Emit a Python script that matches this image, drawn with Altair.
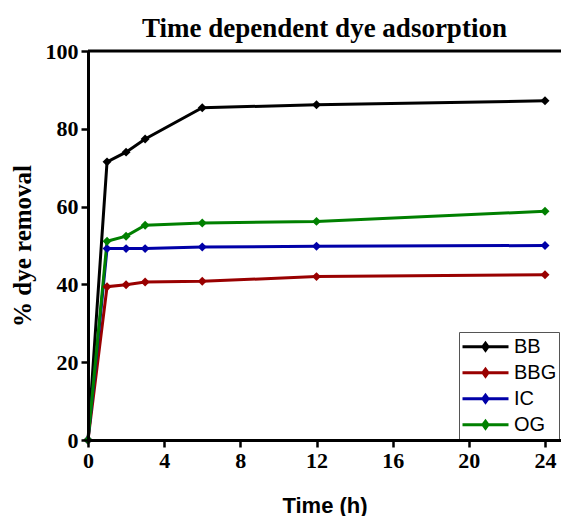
import altair as alt
import pandas as pd

times = [0, 1, 2, 3, 6, 12, 24]
series_names = ["BB", "BBG", "IC", "OG"]
bb = [0, 71.5, 74.0, 77.4, 85.4, 86.2, 87.2]
bbg = [0, 39.4, 39.9, 40.6, 40.8, 42.0, 42.5]
ic = [0, 49.2, 49.2, 49.2, 49.6, 49.8, 50.0]
og = [0, 51.1, 52.4, 55.2, 55.8, 56.2, 58.8]
colors = ["#000000", "#990000", "#0000a8", "#008000"]

x_ticks = [0, 2, 4, 6, 8, 10, 12, 14, 16, 18, 20, 22, 24]
y_ticks = [0, 10, 20, 30, 40, 50, 60, 70, 80, 90, 100]
x_max = 24.84
y_max = 100

rows = []
for name, vals in zip(series_names, [bb, bbg, ic, og]):
    for t, v in zip(times, vals):
        rows.append({"Time": t, "Removal": v, "Dye": name})
df = pd.DataFrame(rows)

SERIF = "Liberation Serif"
SANS = "Liberation Sans"

legend_path = ("M-1,0L1,0"
               "M-0.11,0L0,-0.15L0.11,0L0,0.15Z"
               "M-0.05,0L0,-0.07L0.05,0L0,0.07Z")

x_scale = alt.Scale(domain=[0, x_max], nice=False, zero=False)
y_scale = alt.Scale(domain=[0, y_max], nice=False)

lines = alt.Chart(df).mark_line(
    strokeWidth=3,
    point=alt.OverlayMarkDef(shape="diamond", size=80, filled=True, opacity=1),
).encode(
    x=alt.X(
        "Time:Q",
        scale=x_scale,
        axis=alt.Axis(
            values=x_ticks,
            labelExpr="datum.value % 4 === 0 ? datum.label : ''",
            tickSize={"condition": {"test": "datum.value % 4 === 0", "value": 7}, "value": 4},
            tickWidth=2.5,
            tickColor="black",
            domainColor="black",
            domainWidth=3,
            labelFont=SERIF,
            labelFontWeight="bold",
            labelFontSize=22,
            labelColor="black",
            labelPadding=3,
            labelFlush=False,
            labelOverlap=False,
            grid=False,
            title="Time (h)",
            titleFont=SANS,
            titleFontWeight="bold",
            titleFontSize=22,
            titleColor="black",
            titlePadding=24,
            zindex=1,
        ),
    ),
    y=alt.Y(
        "Removal:Q",
        scale=y_scale,
        axis=alt.Axis(
            values=y_ticks,
            labelExpr="datum.value % 20 === 0 ? datum.label : ''",
            tickSize={"condition": {"test": "datum.value % 20 === 0", "value": 7}, "value": 4},
            tickWidth=2.5,
            tickColor="black",
            domainColor="black",
            domainWidth=3,
            labelFont=SERIF,
            labelFontWeight="bold",
            labelFontSize=22,
            labelColor="black",
            labelPadding=3,
            labelFlush=False,
            labelOverlap=False,
            grid=False,
            title="% dye removal",
            titleFont=SERIF,
            titleFontWeight="bold",
            titleFontSize=25,
            titleColor="black",
            titlePadding=10,
            zindex=1,
        ),
    ),
    color=alt.Color(
        "Dye:N",
        scale=alt.Scale(domain=series_names, range=colors),
        legend=alt.Legend(
            orient="none",
            legendX=371,
            legendY=281,
            title=None,
            symbolType=legend_path,
            symbolSize=2116,
            symbolStrokeWidth=3,
            symbolOffset=0,
            clipHeight=25.5,
            rowPadding=0,
            padding=2,
            labelFont=SANS,
            labelFontSize=20,
            labelColor="black",
            labelOffset=4,
            strokeColor="#555555",
            fillColor="white",
        ),
    ),
)

top_df = pd.DataFrame({"x0": [0], "x1": [x_max], "y": [y_max]})
top_line = alt.Chart(top_df).mark_rule(strokeWidth=3, color="black").encode(
    x=alt.X("x0:Q", scale=x_scale),
    x2="x1:Q",
    y=alt.Y("y:Q", scale=y_scale),
)

chart = alt.layer(lines, top_line).properties(
    width=473,
    height=389,
    title=alt.TitleParams(
        "Time dependent dye adsorption",
        font=SERIF,
        fontSize=27,
        fontWeight="bold",
        color="black",
        anchor="middle",
        offset=-3,
    ),
    autosize=alt.AutoSizeParams(type="none"),
    padding={"left": 88, "top": 51, "right": 0, "bottom": 76},
).configure_view(stroke=None).configure(background="white")

chart.save("out.html", embed_options={"renderer": "svg", "actions": False})
